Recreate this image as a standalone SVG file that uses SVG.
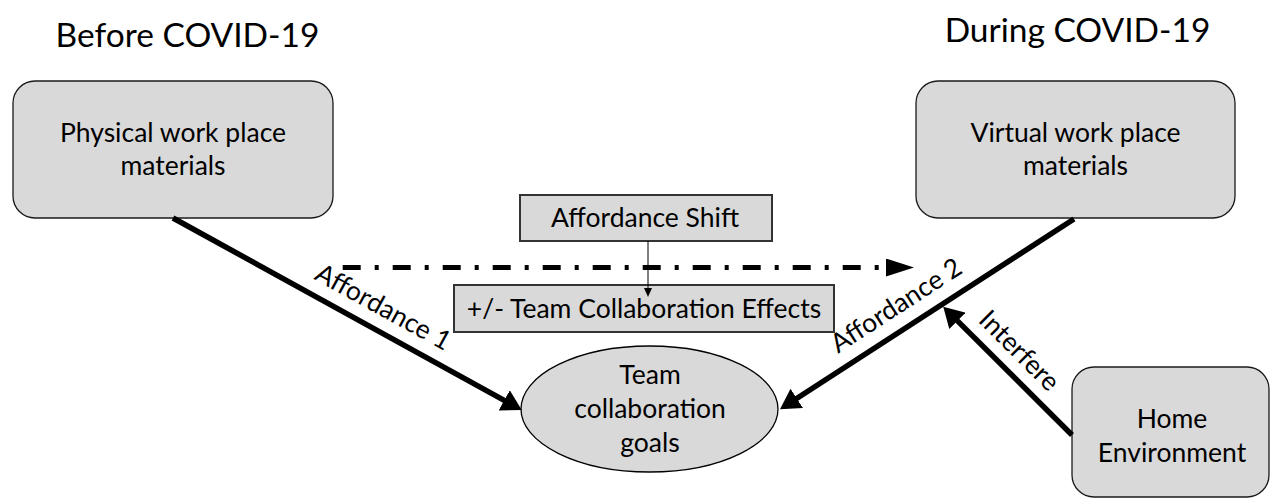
<svg xmlns="http://www.w3.org/2000/svg" width="1271" height="499" viewBox="0 0 1271 499">
<defs>
<style>
text{font-family:"Lato","Open Sans","Liberation Sans",sans-serif;fill:#000;}
.t{font-size:26.5px;text-anchor:middle;}
.title{font-size:33.5px;text-anchor:middle;}
.rbox{fill:#d9d9d9;stroke:#1a1a1a;stroke-width:1.3;}
.sbox{fill:#d9d9d9;stroke:#333;stroke-width:2;}
.thick{fill:none;stroke:#000;stroke-width:5.5;}
</style>
<marker id="big" markerUnits="userSpaceOnUse" viewBox="0 0 20 23" markerWidth="20" markerHeight="23" refX="2" refY="11.5" orient="auto">
<path d="M0,0 L20,11.5 L0,23 Z" fill="#000"/>
</marker>
<marker id="small" markerUnits="userSpaceOnUse" viewBox="0 0 9 8" markerWidth="9" markerHeight="8" refX="1" refY="4" orient="auto">
<path d="M0,0 L9,4 L0,8 Z" fill="#000"/>
</marker>
<marker id="tri" markerUnits="userSpaceOnUse" viewBox="0 0 28 18" markerWidth="28" markerHeight="18" refX="1" refY="9" orient="auto">
<path d="M0,0 L28,9 L0,18 Z" fill="#000"/>
</marker>
</defs>
<rect width="1271" height="499" fill="#fff"/>

<g id="title-before"><text class="title" x="187.5" y="47">Before COVID-19</text></g>
<g id="title-during"><text class="title" x="1077.5" y="42">During COVID-19</text></g>

<g id="physical">
<rect class="rbox" x="13" y="81" width="320" height="137" rx="22"/>
<text class="t" x="173" y="142">Physical work place</text>
<text class="t" x="173" y="175">materials</text>
</g>

<g id="virtual">
<rect class="rbox" x="916" y="81" width="319" height="137" rx="22"/>
<text class="t" x="1075.5" y="142">Virtual work place</text>
<text class="t" x="1075.5" y="175">materials</text>
</g>

<g id="shift">
<rect class="sbox" x="520" y="195" width="252" height="46"/>
<text class="t" x="645" y="227">Affordance Shift</text>
</g>

<g id="effects">
<rect class="sbox" x="454" y="285" width="380" height="47"/>
<text class="t" x="644" y="318">+/- Team Collaboration Effects</text>
</g>

<g id="goals">
<ellipse cx="649.5" cy="409" rx="128.5" ry="63" fill="#d9d9d9" stroke="#000" stroke-width="1.3"/>
<text class="t" x="650" y="384">Team</text>
<text class="t" x="650" y="418">collaboration</text>
<text class="t" x="650" y="452">goals</text>
</g>

<g id="home">
<rect class="rbox" x="1072" y="367" width="197" height="130" rx="22"/>
<text class="t" x="1172" y="428">Home</text>
<text class="t" x="1172" y="462">Environment</text>
</g>

<g id="connectors">
<line class="thick" x1="173" y1="218" x2="506" y2="401.3" marker-end="url(#big)"/>
<line class="thick" x1="1074" y1="219" x2="795.1" y2="399.5" marker-end="url(#big)"/>
<line class="thick" x1="1072" y1="435" x2="956" y2="319.4" marker-end="url(#big)"/>
<line x1="342.7" y1="267.5" x2="887" y2="267.5" stroke="#000" stroke-width="5" stroke-dasharray="18 14 4 14" marker-end="url(#tri)"/>
<line x1="648" y1="241" x2="648" y2="289" stroke="#000" stroke-width="1" marker-end="url(#small)"/>
<text class="t" transform="translate(379,315) rotate(28.8)">Affordance 1</text>
<text class="t" transform="translate(901,313) rotate(-32.9)">Affordance 2</text>
<text class="t" transform="translate(1013,357) rotate(45)">Interfere</text>
</g>
</svg>
